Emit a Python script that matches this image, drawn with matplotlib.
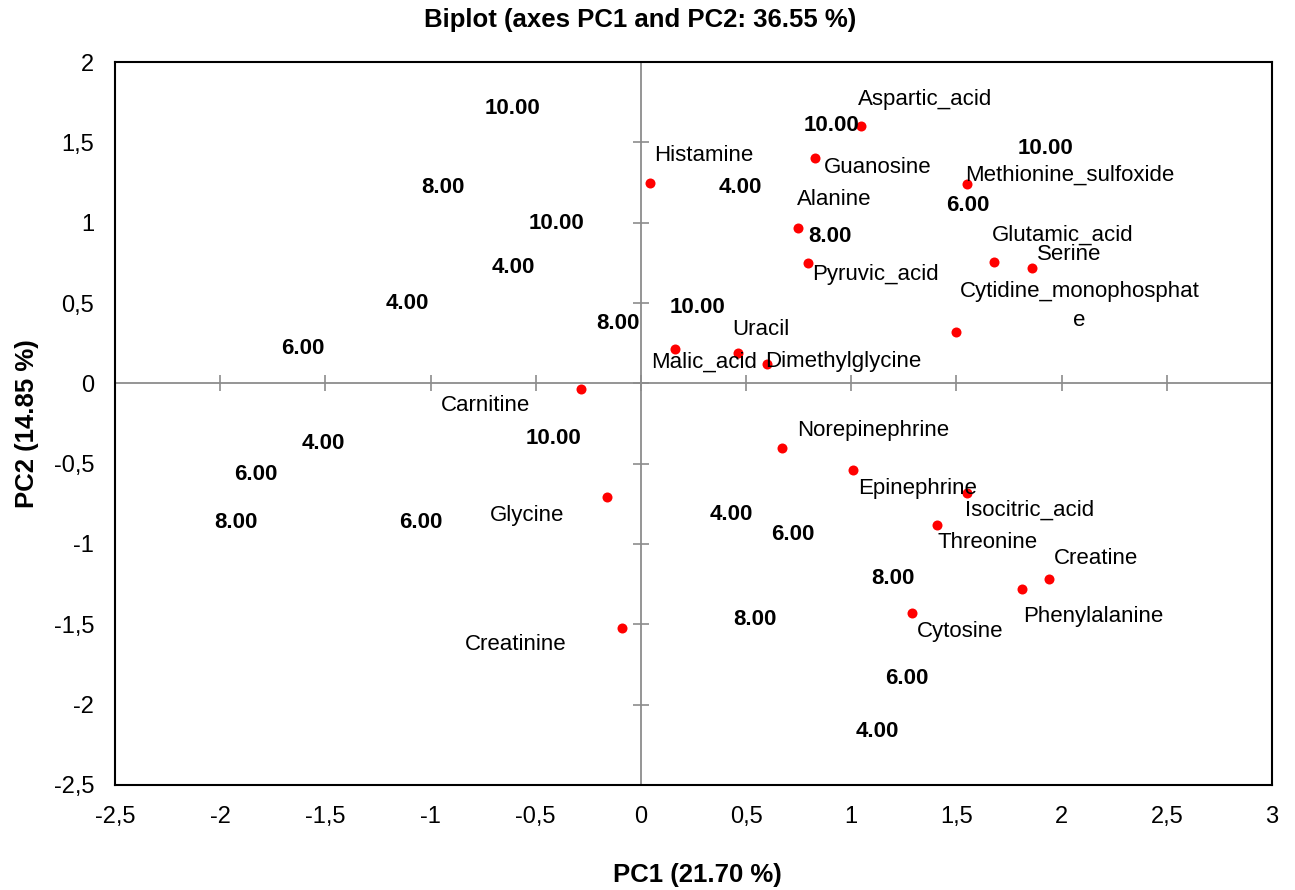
import numpy as np
import matplotlib
matplotlib.use("Agg")
import matplotlib.pyplot as plt
from matplotlib.ticker import FuncFormatter, MultipleLocator

plt.rcParams['font.family'] = ['Liberation Sans', 'DejaVu Sans']

# variables (red points)
var_names = ["Aspartic_acid", "Guanosine", "Histamine", "Methionine_sulfoxide", "Alanine",
             "Pyruvic_acid", "Glutamic_acid", "Serine", "Cytidine_monophosphat\ne", "Uracil",
             "Malic_acid", "Dimethylglycine", "Carnitine", "Norepinephrine", "Epinephrine",
             "Isocitric_acid", "Threonine", "Glycine", "Creatine", "Phenylalanine",
             "Cytosine", "Creatinine"]
var_x = [1.046, 0.827, 0.043, 1.55, 0.746, 0.794, 1.68, 1.86, 1.50, 0.46,
         0.16, 0.60, -0.285, 0.67, 1.008, 1.55, 1.41, -0.16, 1.94, 1.81,
         1.29, -0.09]
var_y = [1.60, 1.40, 1.25, 1.24, 0.967, 0.749, 0.755, 0.718, 0.32, 0.19,
         0.214, 0.12, -0.035, -0.40, -0.54, -0.68, -0.88, -0.71, -1.22, -1.28,
         -1.43, -1.52]

# observations (labels only)
obs_lab = ["10.00", "10.00", "10.00", "8.00", "4.00", "6.00", "10.00", "8.00",
           "4.00", "4.00", "10.00", "8.00", "6.00", "10.00", "4.00", "6.00",
           "8.00", "6.00", "4.00", "6.00", "8.00", "8.00", "6.00", "4.00"]
obs_x = [-0.608, 0.908, 1.925, -0.941, 0.475, 1.554, -0.399, 0.898,
         -0.608, -1.112, 0.271, -0.109, -1.606, -0.414, -1.511, -1.830,
         -1.925, -1.046, 0.428, 0.722, 1.198, 0.542, 1.264, 1.126]
obs_y = [1.713, 1.602, 1.459, 1.216, 1.222, 1.104, 0.998, 0.911,
         0.718, 0.494, 0.475, 0.370, 0.214, -0.345, -0.376, -0.569,
         -0.868, -0.868, -0.819, -0.943, -1.217, -1.472, -1.840, -2.169]

# label placement relative to each point (pixels: dx, dy, ha)
label_pos = {
    "Aspartic_acid": (-3, 27, "left"), "Guanosine": (9, -9, "left"),
    "Histamine": (4, 27, "left"), "Methionine_sulfoxide": (-2, 9, "left"),
    "Alanine": (-1, 28, "left"), "Pyruvic_acid": (4, -11, "left"),
    "Glutamic_acid": (-2, 27, "left"), "Serine": (5, 13, "left"),
    "Cytidine_monophosphat\ne": (123, 26, "center"), "Uracil": (-5, 23, "left"),
    "Malic_acid": (-23, -13, "left"), "Dimethylglycine": (-2, 3, "left"),
    "Carnitine": (-51, -17, "right"), "Norepinephrine": (15, 17, "left"),
    "Epinephrine": (5, -18, "left"), "Isocitric_acid": (-2, -18, "left"),
    "Threonine": (0, -18, "left"), "Glycine": (-43, -18, "right"),
    "Creatine": (5, 21, "left"), "Phenylalanine": (1, -28, "left"),
    "Cytosine": (5, -18, "left"), "Creatinine": (-55, -17, "right"),
}

fig = plt.figure(figsize=(12.95, 8.9), dpi=100)
ax = fig.add_axes([0.0888, 0.118, 0.8934, 0.8123])
ax.set_xlim(-2.5, 3)
ax.set_ylim(-2.5, 2)

# zero lines with cross ticks
grey = "#8c8c8c"
ax.axhline(0, color=grey, lw=1.3, zorder=1)
ax.axvline(0, color=grey, lw=1.3, zorder=1)
tx = np.arange(-2.5, 3.01, 0.5)
ty = np.arange(-2.5, 2.01, 0.5)
ax.plot(tx, np.zeros_like(tx), ls="none", marker="|", ms=11, mew=1.2, color=grey, zorder=1)
ax.plot(np.zeros_like(ty), ty, ls="none", marker="_", ms=11, mew=1.2, color=grey, zorder=1)

ax.scatter(var_x, var_y, s=52, color="#ff0000", zorder=3, linewidths=0)

for name, x, y in zip(var_names, var_x, var_y):
    dx, dy, ha = label_pos[name]
    ax.annotate(name, (x, y), xytext=(dx, dy), textcoords="offset pixels",
                ha=ha, va="center", fontsize=16, color="black",
                multialignment="center", linespacing=1.45, zorder=4)

for lab, x, y in zip(obs_lab, obs_x, obs_y):
    ax.text(x, y, lab, ha="center", va="center", fontsize=16, fontweight="bold",
            family=["Liberation Sans Narrow", "Liberation Sans"], zorder=4)

fmt = FuncFormatter(lambda v, p: ("%g" % v).replace(".", ","))
ax.xaxis.set_major_locator(MultipleLocator(0.5))
ax.yaxis.set_major_locator(MultipleLocator(0.5))
ax.xaxis.set_major_formatter(fmt)
ax.yaxis.set_major_formatter(fmt)
ax.tick_params(length=0, labelsize=17)
ax.tick_params(axis="x", pad=15)
ax.tick_params(axis="y", pad=15)

for sp in ax.spines.values():
    sp.set_linewidth(1.5)
    sp.set_color("black")

ax.set_xlabel("PC1 (21.70 %)", fontsize=18.5, fontweight="bold")
ax.set_ylabel("PC2 (14.85 %)", fontsize=18.5, fontweight="bold")
ax.xaxis.set_label_coords(0.503, -0.108)
ax.yaxis.set_label_coords(-0.066, 0.5)
fig.text(0.494, 0.977, "Biplot (axes PC1 and PC2: 36.55 %)", ha="center", va="center",
         fontsize=18.5, fontweight="bold")

fig.savefig("out.png", dpi=100)
